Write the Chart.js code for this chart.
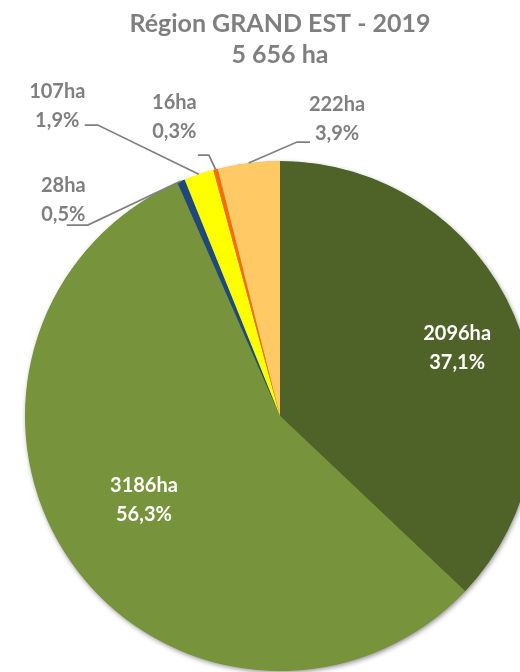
<!DOCTYPE html>
<html><head><meta charset="utf-8">
<script src="https://cdn.jsdelivr.net/npm/chart.js@4.4.0/dist/chart.umd.min.js"></script>
<style>
html,body{margin:0;padding:0;overflow:hidden;background:#fff;width:520px;height:672px}
#wrap{position:absolute;left:0;top:0;width:560px;height:720px}
</style>
</head><body>
<div id="wrap"><canvas id="c" width="560" height="720"></canvas></div>
<script>
// ---- data ----
const titleLines = ['Région GRAND EST - 2019', '5 656 ha'];
const categories = ['Catégorie 1', 'Catégorie 2', 'Catégorie 3', 'Catégorie 4', 'Catégorie 5', 'Catégorie 6'];
const hectares = [2096, 3186, 28, 107, 16, 222];
const valueLabels = ['2096ha', '3186ha', '28ha', '107ha', '16ha', '222ha'];
const percentLabels = ['37,1%', '56,3%', '0,5%', '1,9%', '0,3%', '3,9%'];
const sliceColors = ['#4F6228', '#77933C', '#1F497D', '#FFFF00', '#FF6A00', '#FFC966'];

// ---- label styling (placement relative to slice geometry) ----
const labelStyle = [
  {inside: true, r: 0.744, da: 0.04},
  {inside: true, r: 0.628, da: 0.058},
  {inside: false, dx: -117.7, dy: 19.5, lx: 3.5, ly: 24.5, kx: 21},
  {inside: false, dx: -141.6, dy: -68.5, lx: 27.5, ly: 19.3, kx: 13},
  {inside: false, dx: -41.2, dy: -52.7, lx: 23.5, ly: 38.5, kx: 11},
  {inside: false, dx: 88.4, dy: -43.4, lx: -27, ly: 22.5, kx: -13}
];
const FONT = 'bold 20px Lato';
const LINE_GAP = 29;

const shadowPlugin = {
  id: 'pieShadow',
  beforeDatasetsDraw(chart) {
    const arc = chart.getDatasetMeta(0).data[0];
    if (!arc) return;
    const p = arc.getProps(['x', 'y', 'outerRadius'], true);
    const ctx = chart.ctx;
    ctx.save();
    ctx.shadowColor = 'rgba(0,0,0,0.45)';
    ctx.shadowBlur = 5;
    ctx.shadowOffsetX = 1;
    ctx.shadowOffsetY = 2;
    ctx.fillStyle = '#77933C';
    ctx.beginPath();
    ctx.arc(p.x, p.y, p.outerRadius - 0.5, 0, Math.PI * 2);
    ctx.fill();
    ctx.restore();
  }
};

const labelPlugin = {
  id: 'sliceLabels',
  afterDatasetsDraw(chart) {
    const ctx = chart.ctx;
    const meta = chart.getDatasetMeta(0);
    meta.data.forEach((arc, i) => {
      const p = arc.getProps(['x', 'y', 'startAngle', 'endAngle', 'outerRadius'], true);
      const mid = (p.startAngle + p.endAngle) / 2;
      const st = labelStyle[i];
      let cx, cy;
      ctx.save();
      if (st.inside) {
        const a = mid + st.da, r = p.outerRadius * st.r;
        cx = p.x + r * Math.cos(a);
        cy = p.y + r * Math.sin(a);
        ctx.fillStyle = '#ffffff';
      } else {
        const ex = p.x + p.outerRadius * Math.cos(mid);
        const ey = p.y + p.outerRadius * Math.sin(mid);
        cx = ex + st.dx;
        cy = ey + st.dy;
        const lx = cx + st.lx, ly = cy + st.ly;
        ctx.strokeStyle = '#808080';
        ctx.lineWidth = 1.75;
        ctx.beginPath();
        ctx.moveTo(ex, ey);
        ctx.lineTo(lx + st.kx, ly);
        ctx.lineTo(lx, ly);
        ctx.stroke();
        ctx.fillStyle = '#7f7f7f';
      }
      ctx.font = FONT;
      ctx.textAlign = 'center';
      ctx.textBaseline = 'middle';
      ctx.fillText(valueLabels[i], cx, cy - LINE_GAP / 2);
      ctx.fillText(percentLabels[i], cx, cy + LINE_GAP / 2);
      ctx.restore();
    });
  }
};

new Chart(document.getElementById('c'), {
  type: 'pie',
  data: {
    labels: categories,
    datasets: [{data: hectares, backgroundColor: sliceColors, borderWidth: 0}]
  },
  options: {
    responsive: false,
    animation: false,
    layout: {padding: {left: 25, right: 25, top: 0, bottom: 49}},
    plugins: {
      legend: {display: false},
      tooltip: {enabled: false},
      title: {
        display: true,
        text: titleLines,
        color: '#7f7f7f',
        font: {family: 'Lato', size: 25, weight: 'bold', lineHeight: 1.24},
        padding: {top: 8, bottom: 91}
      }
    }
  },
  plugins: [shadowPlugin, labelPlugin]
});
</script>
</body></html>
